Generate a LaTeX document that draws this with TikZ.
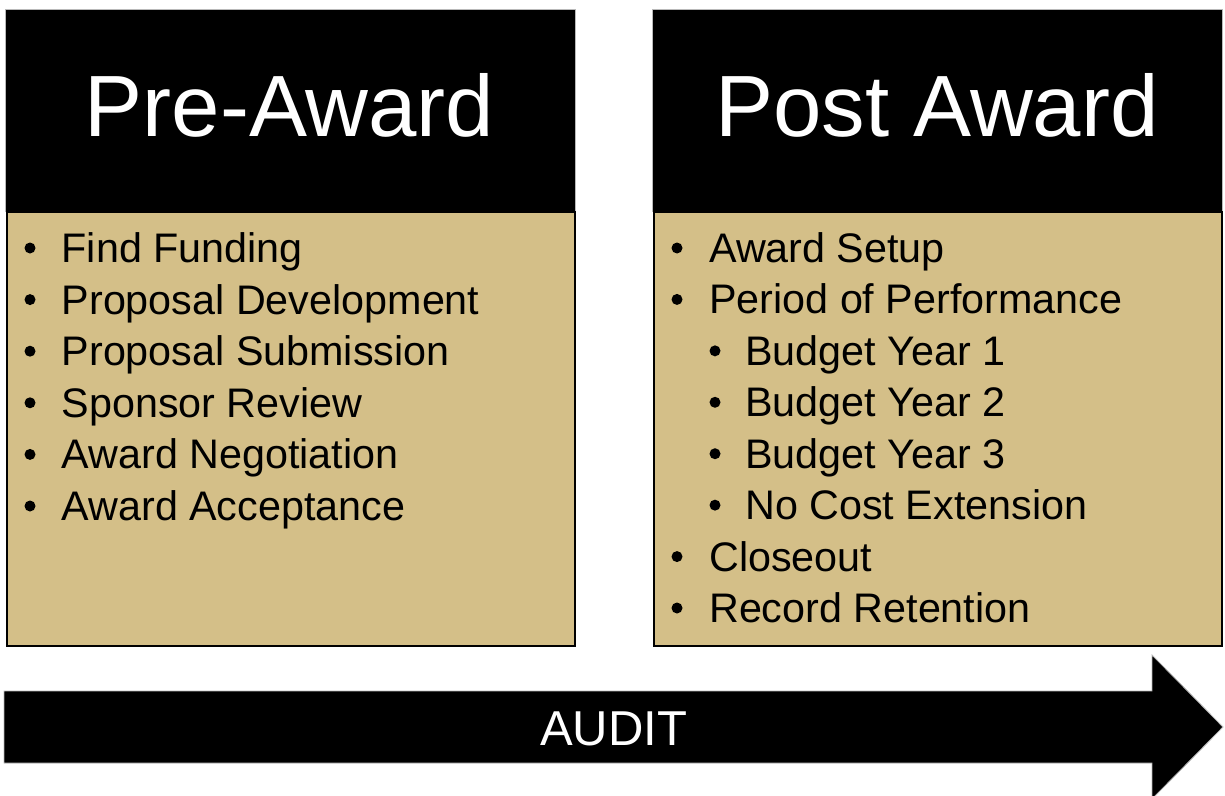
\documentclass[tikz,border=0pt]{standalone}
\usepackage{fontspec}
\setmainfont{Liberation Sans}
\definecolor{gold}{RGB}{212,191,136}
\begin{document}
\begin{tikzpicture}[x=1pt,y=-1pt,
  header/.style={fill=black, draw=gray!55, line width=0.8pt, anchor=north west,
    inner sep=0pt, minimum width=570pt, minimum height=202pt},
  body/.style={fill=gold, draw=black, line width=2.2pt, anchor=north west,
    inner sep=0pt, minimum width=568pt, minimum height=434pt},
  title/.style={text=white, anchor=base, inner sep=0pt,
    font=\fontsize{87}{87}\selectfont},
  item/.style={anchor=base west, inner sep=0pt,
    font=\fontsize{41.3}{41.3}\selectfont},
  dot/.style={circle, fill=black, minimum size=11pt, inner sep=0pt},
  banner/.style={fill=black, draw=gray!55, line width=0.8pt}]
\useasboundingbox (0,0) rectangle (1225,795);
\clip (0,0) rectangle (1225,795);

% Pre-award column
\node[header] (preHead) at (4.5,9) {};
\node[body] (preBody) at (5.5,211) {};
\node[title] (preTitle) at (289.5,136.5) {Pre-Award};
\foreach \t [count=\i from 0] in {Find Funding, Proposal Development,
    Proposal Submission, Sponsor Review, Award Negotiation, Award Acceptance}{
  \node[item] (pre\i) at (61.5,{262.5+51.6*\i}) {\t};
  \node[dot] (preDot\i) at (30,{248+51.6*\i}) {};
}

% Post-award column
\node[header] (postHead) at (652,9) {};
\node[body] (postBody) at (653,211) {};
\node[title] (postTitle) at (937,136.5) {Post Award};
\foreach \t/\lvl [count=\i from 0] in {Award Setup/0, Period of Performance/0,
    Budget Year 1/1, Budget Year 2/1, Budget Year 3/1, No Cost Extension/1,
    Closeout/0, Record Retention/0}{
  \node[item] (post\i) at ({709+36*\lvl},{262.5+51.43*\i}) {\t};
  \node[dot] (postDot\i) at ({677+38*\lvl},{248+51.43*\i}) {};
}

% Audit arrow running under both columns
\draw[banner] (4,691) -- (1152,691) -- (1152,655) -- (1223,727)
  -- (1152,799) -- (1152,763) -- (4,763) -- cycle;
\node[anchor=base, text=white, inner sep=0pt,
  font=\fontsize{49}{49}\selectfont] (audit) at (613.5,745) {AUDIT};
\end{tikzpicture}
\end{document}
